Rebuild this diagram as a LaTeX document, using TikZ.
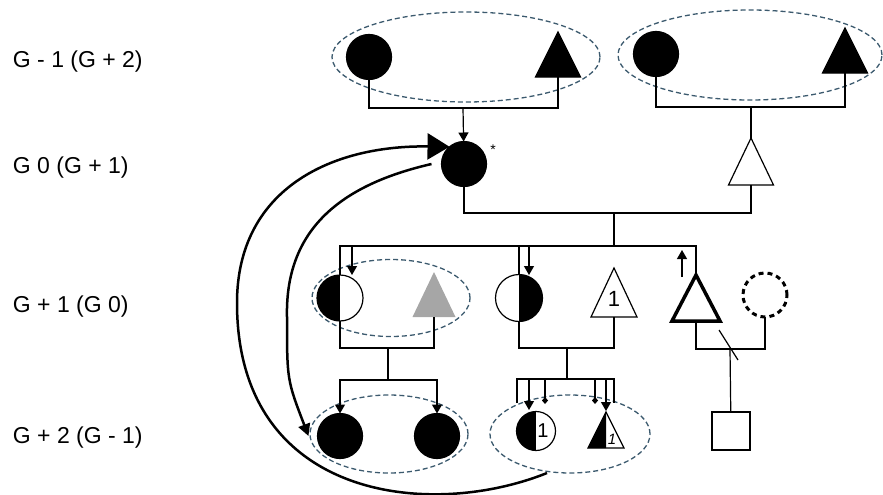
\documentclass[tikz,border=0pt]{standalone}
\usepackage{fontspec}
\setmainfont{Liberation Sans}
\usetikzlibrary{shapes.geometric,arrows.meta}
\definecolor{dashblue}{RGB}{60,90,110}

\begin{document}
\begin{tikzpicture}[x=1pt,y=-1pt,line width=1.2pt]
	\tikzstyle{person}=[draw,inner sep=0pt,outer sep=0pt]
	\tikzstyle{fem}=[person,circle,minimum size=45pt]
	\tikzstyle{lefthalf}=[path picture={\fill (path picture bounding box.south west) rectangle (path picture bounding box.north);}]
	\tikzstyle{righthalf}=[path picture={\fill (path picture bounding box.south) rectangle (path picture bounding box.north east);}]
	\tikzstyle{couple}=[ellipse,draw=dashblue,dash pattern=on 5pt off 3pt,line width=1.3pt,inner sep=0pt]
	\tikzstyle{gen}=[anchor=west,font=\fontsize{23}{27}\selectfont]
	\tikzstyle{arr}=[-{Triangle[length=9pt,width=10pt]}]
	\tikzstyle{dot}=[-{Diamond[length=7pt,width=6pt]}]
	\useasboundingbox (0,0) rectangle (883,495);

	% couples
	\node[couple,minimum width=268pt,minimum height=90pt] (e1) at (466,57) {};
	\node[couple,minimum width=264pt,minimum height=90pt] (e2) at (750,55) {};
	\node[couple,minimum width=158pt,minimum height=77pt] (e3) at (391,298) {};
	\node[couple,minimum width=158pt,minimum height=78pt] (e4) at (389,434) {};
	\node[couple,minimum width=160pt,minimum height=78pt] (e5) at (570,434) {};

	\node[gen] (g1) at (9,62) {G - 1 (G + 2)};
	\node[gen] (g2) at (9,168) {G 0 (G + 1)};
	\node[gen] (g3) at (9,307) {G + 1 (G 0)};
	\node[gen] (g4) at (9,438) {G + 2 (G - 1)};

	% triangles are drawn from the middle of their base
	\coordinate (gf1) at (558,77);
	\coordinate (gf2) at (845,73);
	\coordinate (f0) at (751,185);
	\coordinate (gt) at (434,317);
	\coordinate (t1) at (614,317);
	\coordinate (b1) at (696,321);
	\coordinate (d4) at (606,448);

	\node[fem,fill] (gm1) at (369,57) {};
	\filldraw (gf1) +(-22.5,0) -- +(0,-45) -- +(22.5,0) -- cycle;
	\node[fem,fill] (gm2) at (656,54) {};
	\filldraw (gf2) +(-22.5,0) -- +(0,-45) -- +(22.5,0) -- cycle;

	\node[fem,fill] (pro) at (464,164) {};
	\node[font=\fontsize{14}{14}\selectfont] (star) at (493,150) {*};
	\draw (f0) +(-22.5,0) -- +(0,-47) -- +(22.5,0) -- cycle;

	\node[fem,lefthalf,minimum size=46pt] (c1) at (340,298) {};
	\fill[black!35] (gt) +(-21.5,0) -- +(0,-45) -- +(21.5,0) -- cycle;
	\node[fem,righthalf,minimum size=47pt] (c2) at (519,298) {};
	\draw (t1) +(-23,0) -- +(0,-49) -- +(23,0) -- cycle;
	\node[font=\fontsize{22}{22}\selectfont] (one1) at ([yshift=18pt]t1) {1};
	\draw[line width=3.5pt] (b1) +(-24,0) -- +(0,-46) -- +(24,0) -- cycle;
	\node[fem,dash pattern=on 5pt off 4pt,line width=3pt,minimum size=44pt] (dc) at (765,295) {};

	\node[fem,fill] (d1) at (340,436) {};
	\node[fem,fill] (d2) at (437,436) {};
	\node[fem,lefthalf,minimum size=39pt,label={[font=\fontsize{20}{20}\selectfont,xshift=7pt]center:1}] (d3) at (536,431) {};
	\fill (d4) +(-18,0) -- +(0,-36) -- +(0,0) -- cycle;
	\draw (d4) +(-18,0) -- +(0,-36) -- +(18,0) -- cycle;
	\node[font=\fontsize{15}{15}\itshape] (one2) at ([xshift=6pt,yshift=9pt]d4) {1};
	\node[person,minimum size=38pt] (sq) at (731,431) {};

	% lines of descent
	\coordinate (u1) at (463,108);
	\draw (gm1) |- (u1) -| (gf1);
	\draw[arr] (u1) -- (pro);
	\coordinate (u2) at (751,107);
	\draw (gm2) |- (u2) -| (gf2);
	\draw (u2) -- ([yshift=47pt]f0);
	\coordinate (u3) at (614,213);
	\draw (pro) |- (u3) -| (f0);
	\coordinate (s1) at (614,246);
	\draw (u3) -- (s1);
	\draw (c1) |- (s1) -| ([yshift=46pt]b1);
	\draw (c2) -- (c2 |- s1);
	\draw[arr] (c1.north |- s1) ++(12,0) -- ++(0,29);
	\draw[arr] (c2.north |- s1) ++(10,0) -- ++(0,29);
	\draw[arr] ([xshift=-14pt,yshift=44pt]b1) -- ++(0,-27);

	\coordinate (u4) at (388,348);
	\draw (c1) |- (u4) -| (gt);
	\coordinate (s2) at (388,380);
	\draw (u4) -- (s2);
	\draw[arr] (s2) -| (d1);
	\draw[arr] (s2) -| (d2);

	\coordinate (u5) at (567,348);
	\draw (c2) |- (u5) -| (t1);
	\coordinate (s3) at (567,379);
	\draw (u5) -- (s3);
	\draw (s3) -| ++(-50,24);
	\draw (s3) -| ++(47,24);
	\draw[arr] (s3) ++(-38,0) -- ++(0,31);
	\draw[dot] (s3) ++(-22,0) -- ++(0,25);
	\draw[dot] (s3) ++(28,0) -- ++(0,25);
	\draw[arr] (s3) ++(39,0) -- ++(0,32);

	\coordinate (u6) at (730,349);
	\draw (b1) |- (u6) -| (dc);
	\draw (u6) -- (sq);
	\draw (u6) ++(-11,-19) -- ++(19,30);

	% the two curved arrows
	\coordinate (a0) at (547,473);
	\draw[line width=2.5pt,-{Triangle[length=22pt,width=26pt]}] (a0) .. controls (430,520) and (237,500) .. (237,303) .. controls (237,190) and (330,145) .. (pro.130);
	\draw[line width=2.5pt,-{Triangle[length=12pt,width=12pt]}] ([xshift=-10pt]pro.west) .. controls (340,185) and (285,230) .. (287,317) .. controls (287,380) .. ([xshift=-9pt]d1.west);
\end{tikzpicture}
\end{document}
